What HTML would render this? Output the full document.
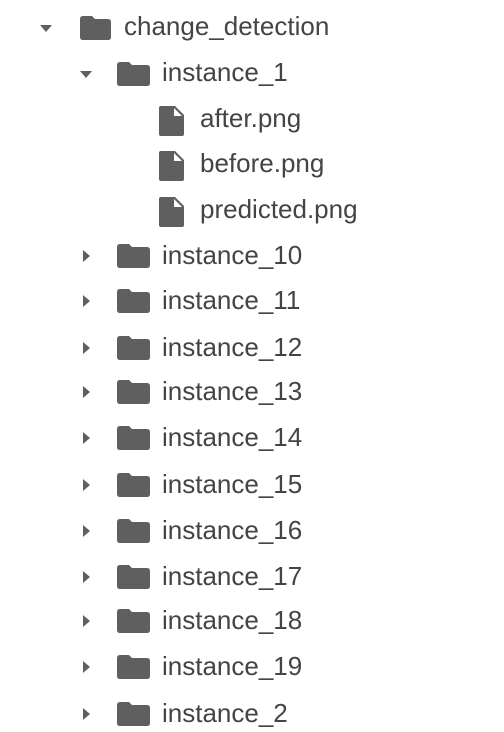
<!DOCTYPE html>
<html><head><style>
body{margin:0;width:504px;height:732px;background:#fff;position:relative;overflow:hidden;font-family:"Liberation Sans",sans-serif;color:#444}
.t{position:absolute;font-size:26px;line-height:26px;white-space:nowrap}
svg{position:absolute}
</style></head><body>
<svg width="504" height="732" style="left:0;top:0">
<g fill="#5f5f5f">
<polygon points="40,25 52,25 46,32"/>
<path d="M80,19 q0,-3 3,-3 h9 l3,3 h13 q3,0 3,3 v15 q0,3 -3,3 h-25 q-3,0 -3,-3z"/>
<polygon points="80,71 92,71 86,78"/>
<path d="M117,65 q0,-3 3,-3 h9 l3,3 h15 q3,0 3,3 v15 q0,3 -3,3 h-27 q-3,0 -3,-3z"/>
<path d="M159,108 q0,-2 2,-2 h14 l9,9 v19 q0,2 -2,2 h-21 q-2,0 -2,-2z M174,108 v8 h8z" fill-rule="evenodd"/>
<path d="M159,153 q0,-2 2,-2 h14 l9,9 v19 q0,2 -2,2 h-21 q-2,0 -2,-2z M174,153 v8 h8z" fill-rule="evenodd"/>
<path d="M159,199 q0,-2 2,-2 h14 l9,9 v19 q0,2 -2,2 h-21 q-2,0 -2,-2z M174,199 v8 h8z" fill-rule="evenodd"/>
</g>
<g fill="#5f5f5f" id="rows"></g>
</svg>
<div class="t" style="left:124px;top:13px">change_detection</div>
<div class="t" style="left:162px;top:59px">instance_1</div>
<div class="t" style="left:200px;top:105px">after.png</div>
<div class="t" style="left:200px;top:150px">before.png</div>
<div class="t" style="left:200px;top:196px">predicted.png</div>
<div id="c"></div>
<script>
var ys=[256,301,348,392,438,485,531,577,621,667,714],
n=["10","11","12","13","14","15","16","17","18","19","2"],g=document.getElementById("rows"),h="",c="";
ys.forEach(function(y,i){
h+='<polygon points="83,'+(y-6)+' 83,'+(y+6)+' 90,'+y+'"/>';
h+='<path d="M117,'+(y-9)+' q0,-3 3,-3 h9 l3,3 h15 q3,0 3,3 v15 q0,3 -3,3 h-27 q-3,0 -3,-3z"/>';
c+='<div class="t" style="left:162px;top:'+(y-14)+'px">instance_'+n[i]+'</div>';
});
g.innerHTML=h;document.getElementById("c").innerHTML=c;
</script>
</body></html>
